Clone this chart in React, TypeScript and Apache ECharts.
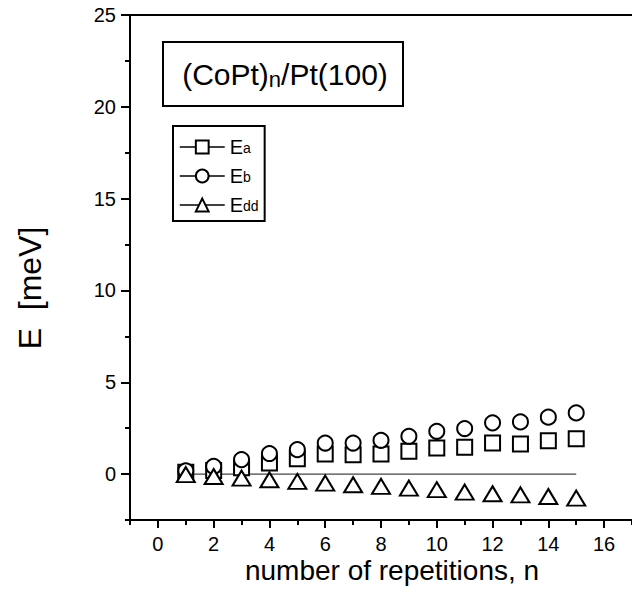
import React, { useEffect, useRef } from "react";
import * as echarts from "echarts";

const nValues = [1, 2, 3, 4, 5, 6, 7, 8, 9, 10, 11, 12, 13, 14, 15];
const Ea = [0.1, 0.2, 0.35, 0.6, 0.84, 1.09, 1.06, 1.09, 1.24, 1.42, 1.46, 1.69, 1.64, 1.82, 1.93];
const Eb = [0.18, 0.42, 0.79, 1.12, 1.33, 1.69, 1.69, 1.84, 2.06, 2.33, 2.48, 2.79, 2.84, 3.1, 3.33];
const Edd = [-0.03, -0.13, -0.22, -0.31, -0.4, -0.49, -0.58, -0.67, -0.76, -0.85, -0.98, -1.07, -1.13, -1.22, -1.31];
const zeroLine = [[0.7, 0], [15, 0]];

const xMajor = [0, 2, 4, 6, 8, 10, 12, 14, 16];
const xMinor = [-1, 1, 3, 5, 7, 9, 11, 13, 15, 17];
const yMajor = [0, 5, 10, 15, 20, 25];
const yMinor = [-2.5, 2.5, 7.5, 12.5, 17.5, 22.5];

const seriesNames = ["Ea", "Eb", "Edd"];
const FONT = "Liberation Sans, Arial, Helvetica, sans-serif";

export default function App() {
  const ref = useRef<HTMLDivElement>(null);
  useEffect(() => {
    document.body.style.margin = "0";
    if (!ref.current) return;
    const chart = echarts.init(ref.current, null, { renderer: "svg" });
    const pair = (ys: number[]) => nValues.map((n, i) => [n, ys[i]]);
    const axisLineStyle = { color: "#000", width: 2 };
    const baseX = { type: "value", min: -1, max: 17, gridIndex: 0, splitLine: { show: false } };
    const baseY = { type: "value", min: -2.5, max: 25, gridIndex: 0, splitLine: { show: false } };
    const option: any = {
      animation: false,
      backgroundColor: "#fff",
      textStyle: { fontFamily: FONT },
      grid: { left: 130, top: 15, width: 505, height: 505, containLabel: false },
      xAxis: [
        {
          ...baseX,
          position: "bottom",
          interval: 1,
          axisLine: { show: true, onZero: false, lineStyle: axisLineStyle },
          axisTick: { show: true, customValues: xMajor, length: 8, lineStyle: { color: "#000", width: 2 } },
          axisLabel: { show: true, customValues: xMajor, fontSize: 20, color: "#000", margin: 14, fontFamily: FONT },
        },
        {
          ...baseX,
          position: "bottom",
          interval: 1,
          axisLine: { show: false, onZero: false },
          axisTick: { show: true, customValues: xMinor, length: 5, lineStyle: { color: "#000", width: 2 } },
          axisLabel: { show: false },
        },
        {
          ...baseX,
          position: "top",
          interval: 1,
          axisLine: { show: true, onZero: false, lineStyle: axisLineStyle },
          axisTick: { show: false },
          axisLabel: { show: false },
        },
      ],
      yAxis: [
        {
          ...baseY,
          position: "left",
          interval: 2.5,
          axisLine: { show: true, onZero: false, lineStyle: axisLineStyle },
          axisTick: { show: true, customValues: yMajor, length: 9, lineStyle: { color: "#000", width: 2 } },
          axisLabel: { show: true, customValues: yMajor, fontSize: 20, color: "#000", margin: 14, fontFamily: FONT },
        },
        {
          ...baseY,
          position: "left",
          interval: 2.5,
          axisLine: { show: false, onZero: false },
          axisTick: { show: true, customValues: yMinor, length: 5, lineStyle: { color: "#000", width: 2 } },
          axisLabel: { show: false },
        },
      ],
      legend: {
        data: seriesNames,
        orient: "vertical",
        left: 173,
        top: 126,
        padding: [11, 6, 6, 6],
        borderColor: "#000",
        borderWidth: 2,
        backgroundColor: "#fff",
        itemWidth: 45,
        itemHeight: 16,
        itemGap: 9,
        selectedMode: false,
        lineStyle: { color: "#000", width: 1.5, opacity: 1 },
        formatter: (name: string) => `{m|E}{s|${name.slice(1)}}`,
        textStyle: {
          color: "#000",
          fontFamily: FONT,
          rich: {
            m: { fontSize: 20, color: "#000", fontFamily: FONT, lineHeight: 16 },
            s: { fontSize: 14, color: "#000", fontFamily: FONT, verticalAlign: "bottom", lineHeight: 1 },
          },
        },
      },
      series: [
        {
          name: "zero",
          type: "line",
          data: zeroLine,
          symbol: "none",
          silent: true,
          z: 1,
          lineStyle: { color: "#444", width: 1.2 },
        },
        {
          name: "Ea",
          type: "line",
          data: pair(Ea),
          symbol: "emptyRect",
          symbolSize: 15,
          silent: true,
          z: 3,
          lineStyle: { opacity: 0, width: 0 },
          itemStyle: { color: "#000", borderWidth: 2.2 },
        },
        {
          name: "Eb",
          type: "line",
          data: pair(Eb),
          symbol: "emptyCircle",
          symbolSize: 15,
          silent: true,
          z: 3,
          lineStyle: { opacity: 0, width: 0 },
          itemStyle: { color: "#000", borderWidth: 2.2 },
        },
        {
          name: "Edd",
          type: "line",
          data: pair(Edd),
          symbol: "emptyTriangle",
          symbolSize: [18, 15],
          silent: true,
          z: 3,
          lineStyle: { opacity: 0, width: 0 },
          itemStyle: { color: "#000", borderWidth: 2.2 },
        },
      ],
      graphic: [
        {
          type: "rect",
          shape: { x: 163, y: 42, width: 240, height: 64 },
          style: { fill: "#fff", stroke: "#000", lineWidth: 2 },
          z: 10,
        },
        {
          type: "text",
          x: 285,
          y: 74,
          z: 11,
          style: {
            text: "{a|(CoPt)}{s|n}{a|/Pt(100)}",
            align: "center",
            verticalAlign: "middle",
            fill: "#000",
            rich: {
              a: { fontSize: 30, fontFamily: FONT, fill: "#000", lineHeight: 32 },
              s: { fontSize: 22, fontFamily: FONT, fill: "#000", verticalAlign: "bottom", lineHeight: 10 },
            },
          },
        },
        {
          type: "text",
          x: 30,
          y: 288,
          rotation: Math.PI / 2,
          style: {
            text: "E  [meV]",
            fontSize: 32,
            fontFamily: FONT,
            fill: "#000",
            align: "center",
            verticalAlign: "middle",
          },
        },
        {
          type: "text",
          x: 392,
          y: 570,
          style: {
            text: "number of repetitions, n",
            fontSize: 28,
            fontFamily: FONT,
            fill: "#000",
            align: "center",
            verticalAlign: "middle",
          },
        },
      ],
    };
    chart.setOption(option);
    return () => chart.dispose();
  }, []);
  return <div ref={ref} style={{ width: 632, height: 612 }} />;
}
